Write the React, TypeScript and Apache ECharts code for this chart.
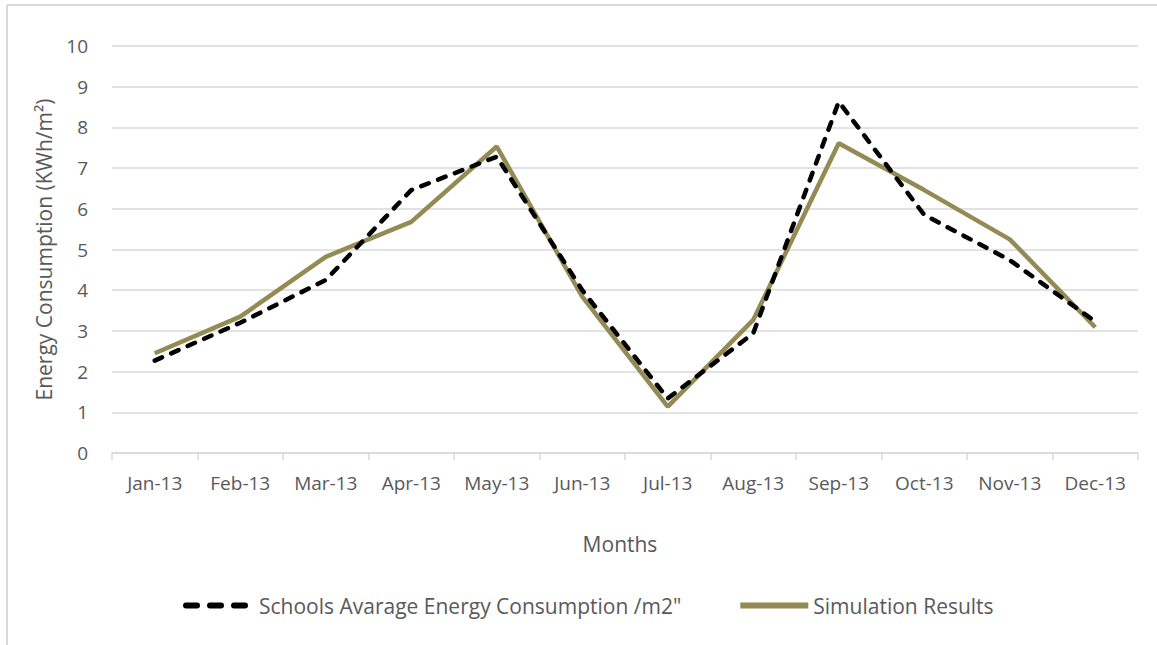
import React, { useEffect, useRef } from "react";
import * as echarts from "echarts";

const months = ["Jan-13", "Feb-13", "Mar-13", "Apr-13", "May-13", "Jun-13", "Jul-13", "Aug-13", "Sep-13", "Oct-13", "Nov-13", "Dec-13"];
const schoolsAvg = [2.27, 3.2, 4.25, 6.46, 7.28, 4.0, 1.34, 2.94, 8.63, 5.85, 4.74, 3.23];
const simulation = [2.45, 3.35, 4.82, 5.68, 7.53, 3.84, 1.14, 3.27, 7.61, 6.46, 5.25, 3.09];
const seriesNames = ["Schools Avarage Energy Consumption /m2\"", "Simulation Results"];

const FONT = "'Open Sans', 'Noto Sans', sans-serif";
const TEXT = "#595959";
const GRID = "#d9d9d9";

export default function App() {
  const ref = useRef<HTMLDivElement>(null);
  useEffect(() => {
    if (!ref.current) return;
    const chart = echarts.init(ref.current, undefined, { renderer: "svg" });
    chart.setOption({
      animation: false,
      backgroundColor: "#ffffff",
      grid: { left: 112, right: 19, top: 46, bottom: 192, containLabel: false },
      xAxis: {
        type: "category",
        data: months,
        boundaryGap: true,
        name: "Months",
        nameLocation: "middle",
        nameGap: 80,
        nameTextStyle: { color: TEXT, fontSize: 21, fontFamily: FONT, padding: [0, 10, 0, 0] },
        axisLine: { show: true, lineStyle: { color: GRID, width: 1.5 } },
        axisTick: { show: true, length: 7, lineStyle: { color: GRID, width: 1.5 } },
        axisLabel: { color: TEXT, fontSize: 19, fontFamily: FONT, margin: 20 },
        splitLine: { show: false },
      },
      yAxis: {
        type: "value",
        min: 0,
        max: 10,
        interval: 1,
        name: "Energy Consumption (KWh/m²)",
        nameLocation: "middle",
        nameGap: 58,
        nameTextStyle: { color: TEXT, fontSize: 21, fontFamily: FONT },
        axisLine: { show: false },
        axisTick: { show: false },
        axisLabel: { color: TEXT, fontSize: 19, fontFamily: FONT, margin: 24 },
        splitLine: { show: true, lineStyle: { color: GRID, width: 1.5 } },
      },
      legend: {
        bottom: 24,
        left: 178,
        itemWidth: 68,
        itemHeight: 12,
        itemGap: 56,
        itemStyle: { opacity: 0 },
        textStyle: { color: TEXT, fontSize: 21, fontFamily: FONT },
        data: [
          { name: seriesNames[0], lineStyle: { width: 6, type: [11, 13], cap: "round" } },
          { name: seriesNames[1], lineStyle: { width: 6 } },
        ],
      },
      graphic: [
        { type: "line", shape: { x1: 7, y1: 5, x2: 7, y2: 645 }, style: { stroke: GRID, lineWidth: 2 } },
        { type: "line", shape: { x1: 7, y1: 5, x2: 1157, y2: 5 }, style: { stroke: GRID, lineWidth: 2 } },
      ],
      series: [
        {
          name: seriesNames[0],
          type: "line",
          data: schoolsAvg,
          symbol: "none",
          z: 3,
          lineStyle: { color: "#000000", width: 4.5, type: [8, 10], cap: "round", join: "round" },
          itemStyle: { color: "#000000" },
        },
        {
          name: seriesNames[1],
          type: "line",
          data: simulation,
          symbol: "none",
          z: 2,
          lineStyle: { color: "#948A54", width: 4.5 },
          itemStyle: { color: "#948A54" },
        },
      ],
    });
    return () => chart.dispose();
  }, []);
  return <div ref={ref} style={{ position: "fixed", left: 0, top: 0, width: 1157, height: 645 }} />;
}
